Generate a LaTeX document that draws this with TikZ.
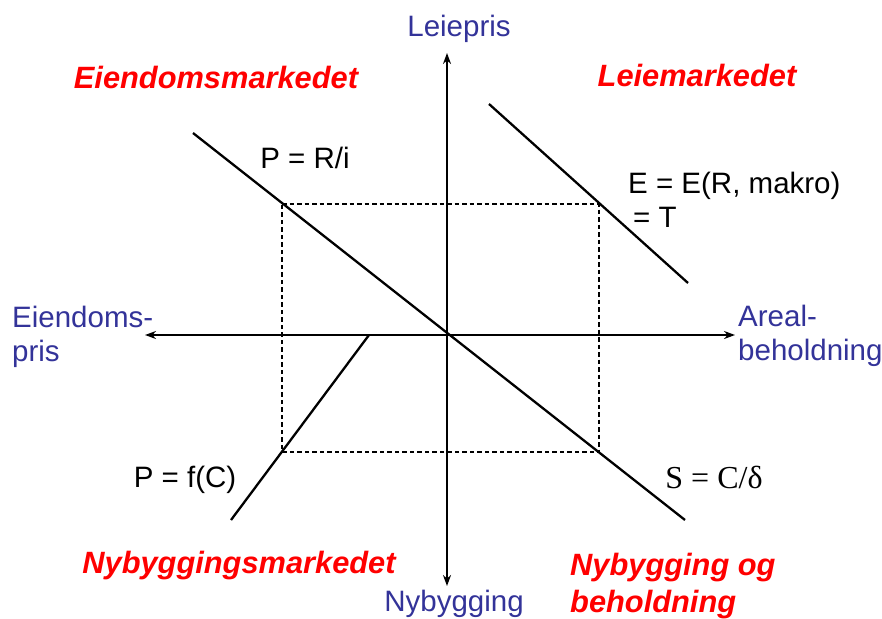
\documentclass[tikz,border=0pt]{standalone}
\usepackage{fontspec}
\setmainfont{Liberation Sans}
\newfontfamily\timesfont{Liberation Serif}
\usetikzlibrary{arrows.meta}
\definecolor{axisblue}{HTML}{333399}
\definecolor{mktred}{HTML}{FF0000}
\begin{document}
\begin{tikzpicture}[x=1pt,y=-1pt,
  txt/.style={inner sep=0pt, font=\fontsize{29.5}{34}\selectfont},
  axlbl/.style={txt, text=axisblue, align=left},
  mkt/.style={inner sep=0pt, text=mktred, font=\fontsize{30.8}{37}\selectfont\bfseries\itshape, align=left},
  curve/.style={line width=2.3pt},
  axisline/.style={line width=1.8pt, -{Stealth[length=11pt,width=8pt]}},
  guide/.style={dashed, dash pattern=on 4.5pt off 3pt, line width=1.1pt}]
\useasboundingbox (0,0) rectangle (882,618);
% axes
\coordinate (O) at (447,335);
\coordinate (top) at (447,53);
\coordinate (bot) at (447,586);
\coordinate (lft) at (145,335);
\coordinate (rgt) at (735,335);
\draw[axisline] (O) -- (top);
\draw[axisline] (O) -- (bot);
\draw[axisline] (O) -- (lft);
\draw[axisline] (O) -- (rgt);
% dashed rectangle
\coordinate (d1) at (282,204);
\coordinate (d2) at (599,204);
\coordinate (d3) at (599,452);
\coordinate (d4) at (282,452);
\draw[guide] (d1) -- (d2) -- (d3) -- (d4) -- cycle;
% curves
\coordinate (r1) at (193,133);
\coordinate (r2) at (685,520);
\draw[curve] (r1) -- (r2);
\coordinate (e1) at (489,104);
\coordinate (e2) at (688,283);
\draw[curve] (e1) -- (e2);
\coordinate (f1) at (369,335);
\coordinate (f2) at (231,520);
\draw[curve] (f1) -- (f2);
% axis labels
\node[axlbl, anchor=center] (lleie) at (459,29) {Leiepris};
\node[axlbl, anchor=west] (leien) at (12,337) {Eiendoms-\\pris};
\node[axlbl, anchor=west] (lareal) at (738,336) {Areal-\\beholdning};
\node[axlbl, anchor=center] (lnyb) at (454,604) {Nybygging};
% market labels
\node[mkt, anchor=center] (m1) at (216,77) {Eiendomsmarkedet};
\node[mkt, anchor=center] (m2) at (697,75) {Leiemarkedet};
\node[mkt, anchor=center] (m3) at (239,566) {Nybyggingsmarkedet};
\node[mkt, anchor=west] (m4) at (570,586) {Nybygging og\\beholdning};
% equations
\node[txt, anchor=center] (eq1) at (305,158) {P = R/i};
\node[txt, anchor=west, align=left] (eq2) at (628,200) {E = E(R, makro)\\\hspace*{5pt}= T};
\node[txt, anchor=center] (eq3) at (185,480) {P = f(C)};
\node[inner sep=0pt, anchor=center, font=\timesfont\fontsize{32}{34}\selectfont] (eq4) at (714,477) {S = C/δ};
\end{tikzpicture}
\end{document}
